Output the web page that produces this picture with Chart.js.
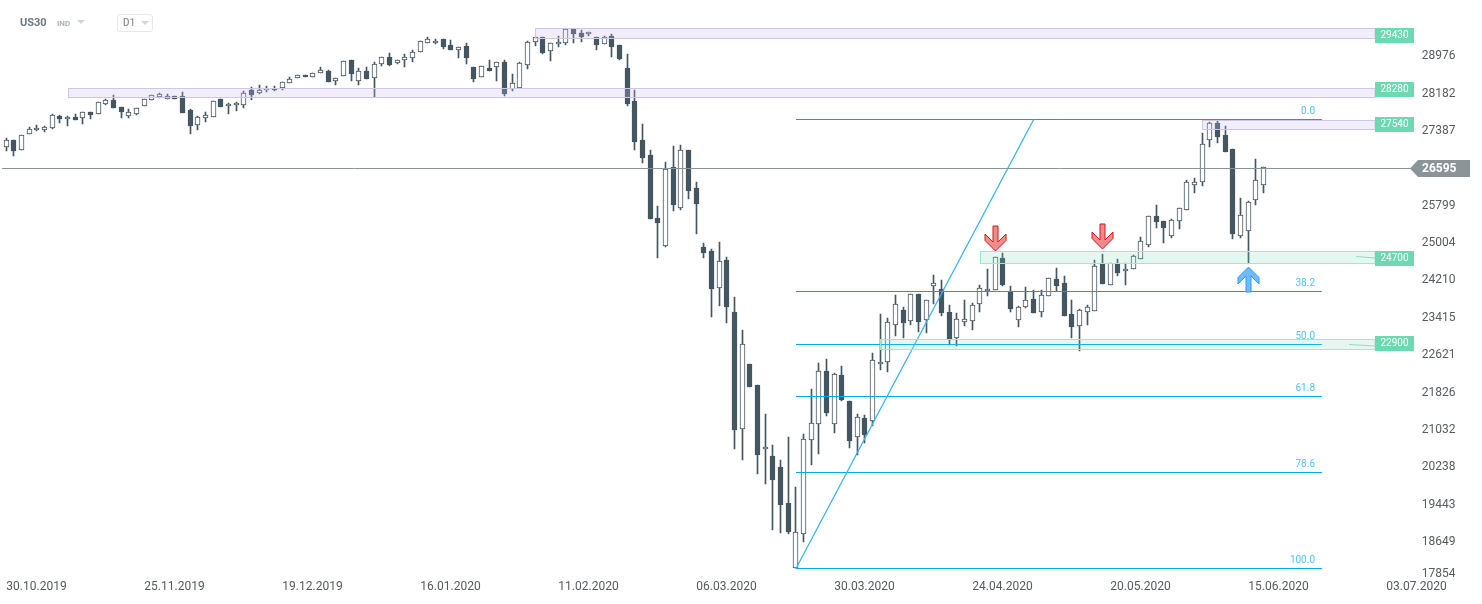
<!DOCTYPE html>
<html>
<head>
<meta charset="utf-8">
<title>US30 D1</title>
<script src="https://cdn.jsdelivr.net/npm/chart.js@4/dist/chart.umd.min.js"></script>
<style>
    html, body { margin: 0; padding: 0; background: #fff; overflow: hidden; }
    #wrap { position: relative; width: 1482px; height: 604px; font-family: Roboto, sans-serif; }
    canvas { position: absolute; left: 0; top: 0; }
    .head { position: absolute; white-space: nowrap; }
    #symbol { left: 20px; top: 16px; font-size: 11px; line-height: 14px; font-weight: 700; color: #6b7882; }
    #kind { left: 57px; top: 19px; font-size: 8px; line-height: 10px; font-weight: 700; color: #a6b4bd; }
    #tri1 { left: 77px; top: 20px; border-left: 4px solid transparent; border-right: 4px solid transparent; border-top: 4px solid #d2d6d9; }
    #frame { left: 117px; top: 14px; width: 34px; height: 16px; border: 1px solid #e8e8e8; border-radius: 3px; box-sizing: content-box; }
    #period { left: 123px; top: 17px; font-size: 10px; line-height: 12px; font-weight: 500; color: #8b979f; }
    #tri2 { left: 141px; top: 21px; border-left: 4px solid transparent; border-right: 4px solid transparent; border-top: 4px solid #d2d6d9; }
</style>
</head>
<body>
<div id="wrap">
    <canvas id="myChart" width="1482" height="604"></canvas>
    <div class="head" id="symbol">US30</div>
    <div class="head" id="kind">IND</div>
    <div class="head" id="tri1"></div>
    <div class="head" id="frame"></div>
    <div class="head" id="period">D1</div>
    <div class="head" id="tri2"></div>
</div>
<script>
// Daily candles
const opens = [
    27014, 27163, 26951, 27291, 27376, 27390, 27418, 27673, 27609, 27659,
    27631, 27765, 27716, 27928, 28013, 27864, 27687, 27730, 27885, 28013,
    28091, 28048, 28105, 28112, 27808, 27482, 27631, 27652, 28034, 27885,
    27907, 27907, 28225, 28162, 28225, 28254, 28268, 28374, 28480, 28558,
    28502, 28587, 28629, 28431, 28530, 28863, 28431, 28629, 28480, 28778,
    28927, 28799, 28863, 28906, 29033, 29224, 29238, 29309, 29189, 29090,
    29160, 28714, 28502, 28693, 28714, 28820, 28247, 28282, 28757, 29245,
    29352, 29054, 29203, 29238, 29522, 29437, 29416, 29352, 29217, 29373,
    29182, 28693, 27992, 27163, 26844, 25506, 24925, 26589, 25732, 26951,
    26143, 24889, 24804, 24018, 24613, 23508, 21022, 22403, 21957, 20597,
    20448, 20214, 19449, 18068, 18791, 20788, 21128, 22254, 21128, 22169,
    21617, 20852, 21256, 21192, 22403, 22446, 23232, 23551, 23317, 23891,
    23338, 24075, 23997, 23508, 22970, 23296, 23331, 23678, 23968, 23975,
    24663, 23940, 23338, 23614, 23784, 23508, 23848, 24209, 24124, 23466,
    23225, 23508, 23529, 24528, 24082, 24549, 24379, 24422, 24634, 24932,
    25548, 25442, 25123, 25442, 25676, 26207, 26270, 27163, 27524, 27276,
    26972, 25123, 25229, 25888, 26207
];
const highs = [
    27213, 27163, 27269, 27439, 27482, 27461, 27716, 27701, 27673, 27723,
    27772, 27772, 27971, 28048, 28126, 27864, 27822, 27850, 28034, 28133,
    28169, 28148, 28105, 28183, 27829, 27680, 27765, 28006, 28034, 27949,
    27971, 28211, 28289, 28339, 28318, 28318, 28410, 28502, 28558, 28558,
    28601, 28714, 28650, 28495, 28856, 28863, 28693, 28721, 28820, 28927,
    29019, 28877, 28998, 29083, 29267, 29359, 29323, 29309, 29295, 29139,
    29231, 28714, 28750, 28870, 28835, 28863, 28573, 28828, 29267, 29352,
    29352, 29238, 29380, 29522, 29522, 29508, 29458, 29352, 29380, 29423,
    29182, 28998, 28233, 27510, 26958, 25768, 26696, 27043, 27064, 26951,
    26271, 24981, 24854, 25003, 24677, 23834, 23133, 22403, 21957, 21348,
    20689, 20370, 20859, 19797, 20923, 21879, 22431, 22516, 22219, 22367,
    21617, 21348, 21327, 22644, 23473, 23388, 23876, 23621, 23891, 23891,
    23763, 24301, 24195, 23664, 23494, 23770, 23706, 24089, 24429, 24677,
    24769, 24068, 23643, 24046, 23975, 23975, 24230, 24450, 24280, 23770,
    23572, 23664, 24620, 24748, 24549, 24634, 24549, 24726, 25109, 25548,
    25789, 25442, 25484, 25718, 26320, 26355, 27312, 27553, 27574, 27468,
    26972, 25931, 25867, 26759, 26603
];
const lows = [
    26943, 26837, 26951, 27291, 27361, 27340, 27397, 27538, 27475, 27595,
    27510, 27616, 27716, 27914, 27857, 27645, 27645, 27701, 27885, 28013,
    28055, 28048, 28048, 27751, 27305, 27390, 27560, 27652, 27878, 27730,
    27793, 27857, 28027, 28155, 28183, 28218, 28240, 28374, 28480, 28502,
    28502, 28587, 28395, 28346, 28530, 28431, 28346, 28459, 28077, 28750,
    28750, 28778, 28729, 28835, 29033, 29224, 29217, 29111, 29090, 28920,
    28792, 28410, 28502, 28643, 28431, 28112, 28204, 28282, 28686, 29175,
    29005, 28856, 29153, 29196, 29238, 29260, 29387, 29090, 29217, 28941,
    28877, 27899, 26965, 26688, 25499, 24670, 24904, 25669, 25690, 25923,
    25180, 24670, 23416, 23650, 23289, 20611, 20377, 21929, 20080, 19867,
    18890, 18826, 18805, 18068, 18635, 20271, 20505, 21312, 20951, 21631,
    20632, 20484, 20739, 21100, 22290, 22247, 23012, 22970, 23246, 23097,
    23076, 23685, 23430, 22807, 22800, 23218, 23133, 23515, 23855, 23975,
    24068, 23522, 23203, 23607, 23501, 23416, 23848, 23961, 23437, 22963,
    22693, 23239, 23529, 24117, 24082, 24287, 24096, 24422, 24634, 24903,
    25307, 24988, 25081, 25272, 25676, 26051, 26200, 27028, 27113, 26908,
    25066, 25081, 24549, 25789, 26051
];
const closes = [
    27170, 26943, 27269, 27397, 27418, 27439, 27701, 27623, 27666, 27602,
    27772, 27708, 27971, 28013, 27857, 27765, 27758, 27843, 28034, 28133,
    28140, 28105, 28048, 27751, 27475, 27652, 27694, 28006, 27878, 27928,
    27949, 28162, 28126, 28225, 28261, 28225, 28410, 28459, 28558, 28502,
    28601, 28650, 28410, 28495, 28856, 28580, 28629, 28473, 28778, 28927,
    28771, 28863, 28927, 29033, 29267, 29309, 29281, 29153, 29090, 29139,
    28920, 28473, 28750, 28643, 28835, 28155, 28374, 28799, 29245, 29352,
    29026, 29238, 29245, 29522, 29430, 29352, 29458, 29196, 29352, 29153,
    28898, 27942, 27135, 26795, 25499, 25414, 26547, 25796, 26951, 26094,
    25817, 24776, 24011, 24606, 23628, 21015, 22828, 21929, 20484, 20654,
    19952, 19421, 18847, 18833, 20809, 21149, 22254, 21376, 22190, 21652,
    20781, 21277, 20908, 22488, 22446, 23296, 23678, 23289, 23891, 23310,
    23763, 24124, 23501, 22913, 23359, 23359, 23657, 24018, 23997, 24677,
    24096, 23586, 23614, 23763, 23501, 23869, 24230, 24075, 23437, 23203,
    23550, 23614, 24485, 24117, 24549, 24351, 24422, 24705, 25017, 25548,
    25435, 25307, 25463, 25718, 26270, 26285, 27078, 27524, 27241, 26922,
    25180, 25583, 25846, 26313, 26603
];

// Time axis: one slot per session, empty slots run on to the price axis
const slotCount = 185;
const dateLabels = ['30.10.2019', '25.11.2019', '19.12.2019', '16.01.2020', '11.02.2020', '06.03.2020', '30.03.2020', '24.04.2020', '20.05.2020', '15.06.2020', '03.07.2020'];
const dateSlots = [4, 22, 40, 58, 76, 94, 112, 130, 148, 166, 184];

// Price axis
const yTicks = [28976, 28182, 27387, 25799, 25004, 24210, 23415, 22621, 21826, 21032, 20238, 19443, 18649, 17854];
const lastPriceText = '26595';
const lastPriceLevel = 26570;

// Levels: text, zone top, zone bottom, first slot, colour kind
const zoneTexts = ['29430', '28280', '27540', '24700', '22900'];
const zoneTops = [29545, 28275, 27595, 24810, 22950];
const zoneBottoms = [29345, 28090, 27400, 24565, 22730];
const zoneStarts = [69, 8, 156, 127, 114];
const zoneKinds = ['purple', 'purple', 'purple', 'green', 'green'];

// Fibonacci retracement
const fibLabels = ['0.0', '38.2', '50.0', '61.8', '78.6', '100.0'];
const fibLevels = [27606, 23951, 22824, 21719, 20104, 18064];
const fibStart = 103;
const fibEnd = 171.6;

// Rising trend line: two anchors
const trendSlots = [103, 134];
const trendLevels = [18064, 27606];

// Arrows: slot and tip price
const arrowSlots = [129, 143, 162];
const arrowLevels = [24811, 24854, 24471];
const arrowKinds = ['down', 'down', 'up'];

const candleDark = '#44565f';
const slots = Array.from({ length: slotCount }, (_, i) => {
    const at = dateSlots.indexOf(i);
    return at >= 0 ? dateLabels[at] : '';
});
const bodies = opens.map((o, i) => [Math.min(o, closes[i]), Math.max(o, closes[i])]);
const wicks = lows.map((l, i) => [l, highs[i]]);
const bodyFills = opens.map((o, i) => closes[i] >= o ? '#ffffff' : candleDark);

// The reference is pixel-snapped, so snap the bars after the scales placed them
const snapBars = {
    id: 'snapBars',
    afterDatasetsUpdate(chart) {
        chart.getSortedVisibleDatasetMetas().forEach(meta => {
            meta.data.forEach(bar => {
                bar.x = Math.floor(bar.x) + 0.5;
                bar.y = Math.round(bar.y);
                bar.base = Math.round(bar.base);
            });
        });
    }
};

function drawArrow(ctx, x, tip, kind) {
    const dir = kind === 'down' ? -1 : 1;   // body grows up from a down arrow's tip
    const p = [[0, 0], [10.5, 10.5 ], [10.5, 17], [2.5, 9], [2.5, 25], [-2.5, 25], [-2.5, 9], [-10.5, 17], [-10.5, 10.5]];
    ctx.beginPath();
    p.forEach((pt, i) => {
        const px = x + pt[0];
        const py = tip + dir * pt[1];
        if (i === 0) ctx.moveTo(px, py); else ctx.lineTo(px, py);
    });
    ctx.closePath();
    ctx.fillStyle = kind === 'down' ? '#ee8b8b' : '#70bbfb';
    ctx.strokeStyle = kind === 'down' ? '#d8141c' : '#2b9cf7';
    ctx.lineWidth = 1;
    ctx.fill();
    ctx.stroke();
}

const overlays = {
    id: 'overlays',
    afterDatasetsDraw(chart) {
        const ctx = chart.ctx;
        const xs = chart.scales.x;
        const ys = chart.scales.y;
        const crisp = v => Math.floor(v) + 0.5;
        // scale slots can be fractional here, so work it out from the first two
        const slotX = s => xs.getPixelForValue(0) + s * (xs.getPixelForValue(1) - xs.getPixelForValue(0));
        const zoneEnd = 1375;

        ctx.save();
        ctx.font = '10px Roboto';
        ctx.textAlign = 'right';
        ctx.textBaseline = 'middle';

        // fib lines and their labels
        fibLevels.forEach((level, i) => {
            const y = crisp(ys.getPixelForValue(level));
            ctx.strokeStyle = i < 2 ? '#1b9ad8' : '#03a9f4';
            ctx.lineWidth = 1;
            ctx.beginPath();
            ctx.moveTo(slotX(fibStart), y);
            ctx.lineTo(slotX(fibEnd), y);
            ctx.stroke();
            ctx.fillStyle = '#4fc3f7';
            ctx.fillText(fibLabels[i], 1315, y - 8);
        });

        // trend line
        ctx.strokeStyle = '#3ab4f2';
        ctx.lineWidth = 1.3;
        ctx.beginPath();
        ctx.moveTo(slotX(trendSlots[0]), ys.getPixelForValue(trendLevels[0]));
        ctx.lineTo(slotX(trendSlots[1]), ys.getPixelForValue(trendLevels[1]));
        ctx.stroke();

        // last price line
        const lastY = crisp(ys.getPixelForValue(lastPriceLevel));
        ctx.strokeStyle = '#8a9599';
        ctx.lineWidth = 1;
        ctx.beginPath();
        ctx.moveTo(2, lastY);
        ctx.lineTo(1412, lastY);
        ctx.stroke();
        ctx.fillStyle = '#8a9499';
        ctx.beginPath();
        ctx.moveTo(1410, lastY);
        ctx.lineTo(1418, lastY - 8.5);
        ctx.lineTo(1470, lastY - 8.5);
        ctx.lineTo(1470, lastY + 8.5);
        ctx.lineTo(1418, lastY + 8.5);
        ctx.closePath();
        ctx.fill();
        ctx.fillStyle = '#ffffff';
        ctx.font = '700 12px Roboto';
        ctx.textAlign = 'left';
        ctx.fillText(lastPriceText, 1422, lastY + 0.5);

        // zones go over the candles
        zoneTexts.forEach((text, i) => {
            const top = Math.round(ys.getPixelForValue(zoneTops[i]));
            const bottom = Math.round(ys.getPixelForValue(zoneBottoms[i]));
            const left = Math.round(slotX(zoneStarts[i])) + 0.5;
            const purple = zoneKinds[i] === 'purple';
            ctx.fillStyle = purple ? 'rgba(199,187,235,0.25)' : 'rgba(120,220,185,0.2)';
            ctx.fillRect(left, top, zoneEnd - left, bottom - top);
            ctx.strokeStyle = purple ? '#d0c4ea' : '#a0e8cf';
            ctx.strokeRect(left, top + 0.5, zoneEnd - left, bottom - top);

            // small pointer line from the zone to the tag
            if (!purple) {
                ctx.strokeStyle = '#8fdcc0';
                ctx.beginPath();
                ctx.moveTo(i === 3 ? 1356 : 1349, top + 5.5);
                ctx.lineTo(zoneEnd, top + 7);
                ctx.stroke();
            }

            // tag: the box hangs around the zone, it is not centred on it
            const boxTop = i === 0 ? top : (i === 1 ? top - 6 : (i === 2 ? top - 3 : (i === 3 ? top : top - 3)));
            ctx.fillStyle = '#6dd9b3';
            ctx.fillRect(zoneEnd, boxTop, 39, 15);
            ctx.fillStyle = '#ffffff';
            ctx.font = '10px Roboto';
            ctx.textAlign = 'center';
            ctx.fillText(text, zoneEnd + 19.5, boxTop + 7);
        });

        arrowSlots.forEach((slot, i) => {
            drawArrow(ctx, Math.floor(slotX(slot)) + 0.5, ys.getPixelForValue(arrowLevels[i]), arrowKinds[i]);
        });
        ctx.restore();
    }
};

const ctx = document.getElementById('myChart').getContext('2d');
const myChart = new Chart(ctx, {
    type: 'bar',
    data: {
        labels: slots,
        datasets: [
            {
                label: 'Body',
                data: bodies,
                backgroundColor: bodyFills,
                borderColor: candleDark,
                borderWidth: 1,
                borderSkipped: false,
                barThickness: 5,
                grouped: false
            },
            {
                label: 'Wick',
                data: wicks,
                backgroundColor: candleDark,
                borderWidth: 0,
                barThickness: 1,
                grouped: false
            }
        ]
    },
    options: {
        responsive: false,
        animation: false,
        layout: { padding: { left: 2.5, right: 0, top: 0, bottom: 0 } },
        plugins: { legend: { display: false }, tooltip: { enabled: false } },
        scales: {
            x: {
                offset: true,
                grid: { display: false, drawTicks: false },
                border: { display: false },
                afterFit: scale => {
                    scale.height = 26;
                    scale.paddingLeft = 0;
                    scale.paddingRight = 0;
                },
                ticks: {
                    autoSkip: false,
                    maxRotation: 0,
                    padding: 2,
                    labelOffset: -0.5,
                    color: '#555b60',
                    font: { family: 'Roboto', size: 12 }
                }
            },
            y: {
                position: 'right',
                min: 17862.5,
                max: 30145,
                grid: { display: false, drawTicks: false },
                border: { display: false },
                afterFit: scale => {
                    scale.width = 1482 - 1420.83;
                    scale.paddingTop = 0;
                    scale.paddingBottom = 0;
                },
                // labels sit about a pixel under their level in the reference,
                // and the lowest one is pushed up off the time axis
                afterBuildTicks: scale => {
                    scale.ticks = yTicks.map(v => ({ value: v === 17854 ? 17950 : v - 25 }));
                },
                ticks: {
                    padding: 1,
                    color: '#555b60',
                    font: { family: 'Roboto', size: 12 },
                    callback: (value, index) => String(yTicks[index])
                }
            }
        }
    },
    plugins: [snapBars, overlays]
});
</script>
</body>
</html>
